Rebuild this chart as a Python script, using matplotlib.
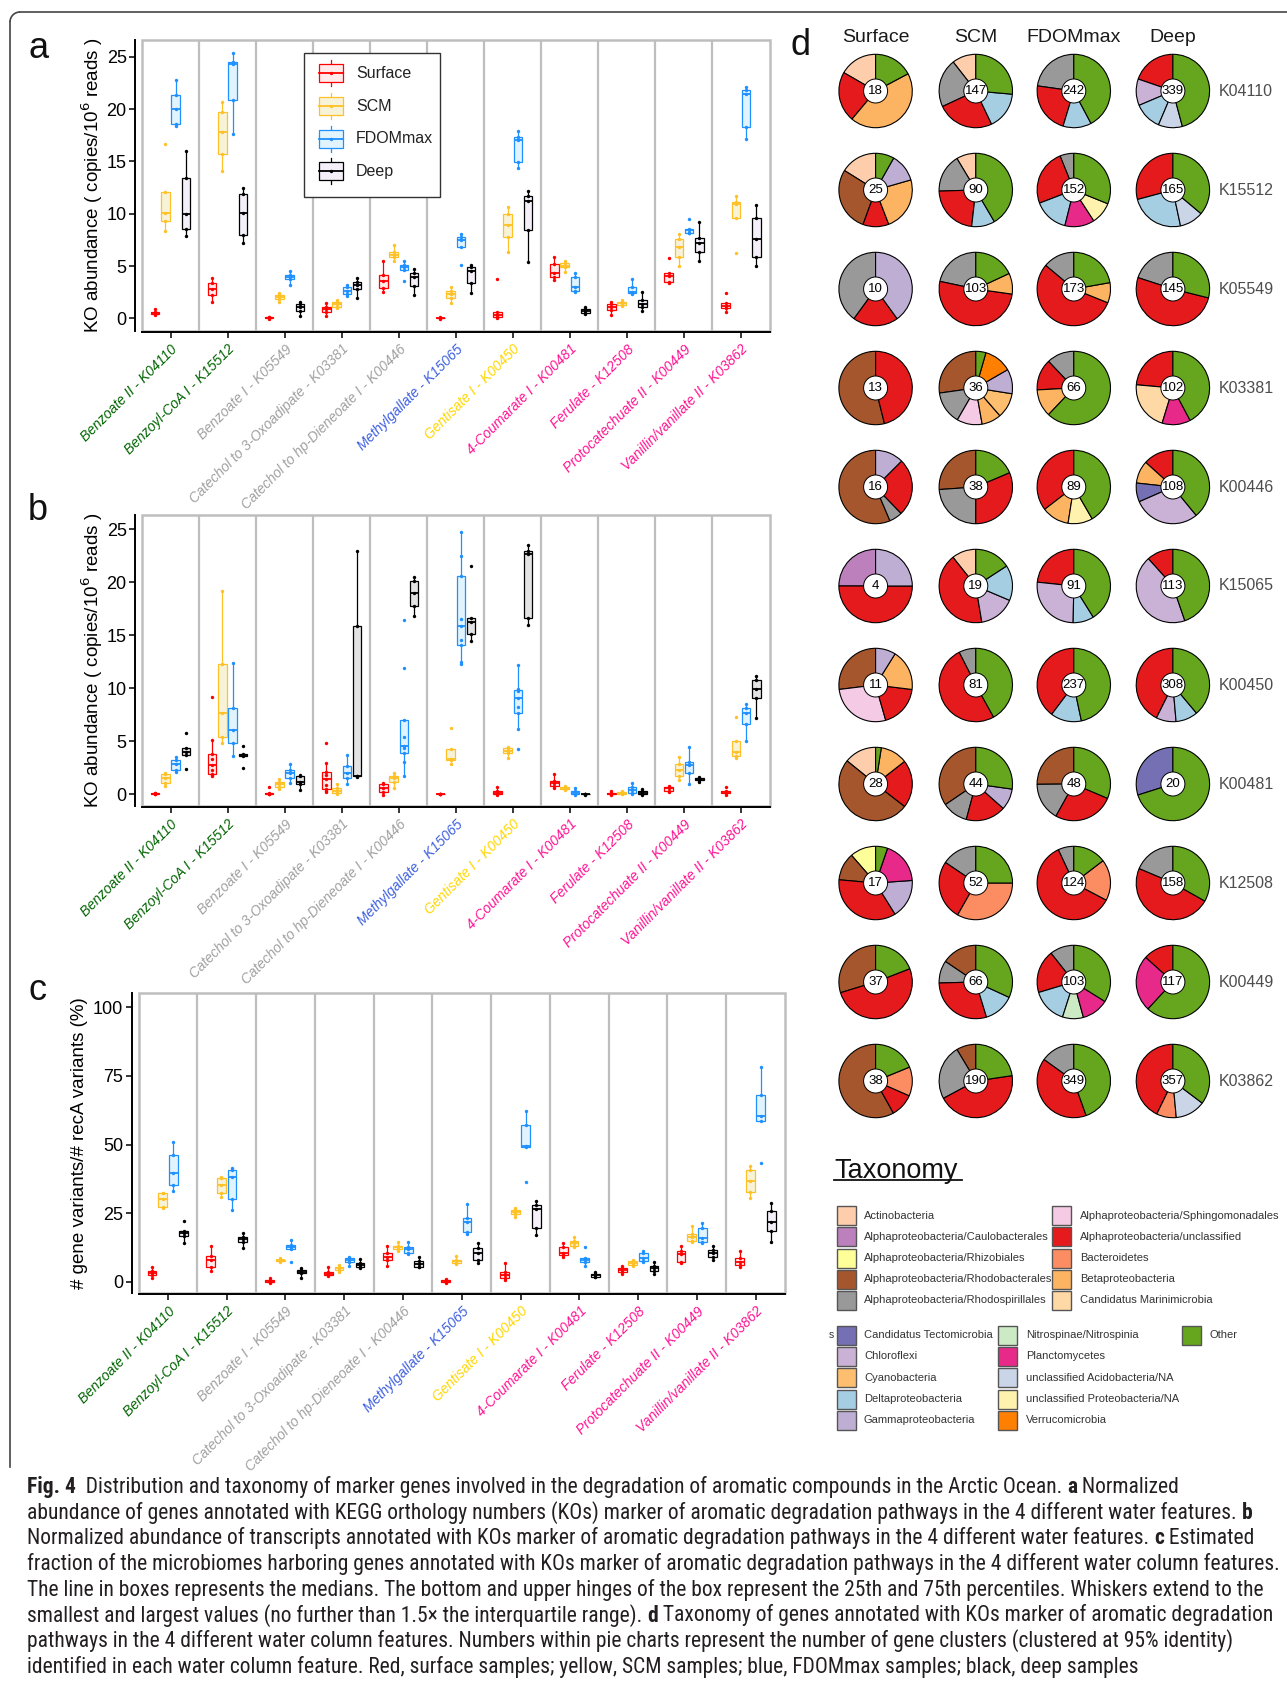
import matplotlib
matplotlib.use("Agg")
import matplotlib.pyplot as plt
from matplotlib import font_manager as fm
from matplotlib.patches import Rectangle, Circle, Arc
from matplotlib.lines import Line2D
from matplotlib.transforms import Bbox, TransformedBbox
import numpy as np

# ---------------------------------------------------------------- data
categories = ["Benzoate II - K04110", "Benzoyl-CoA I - K15512", "Benzoate I - K05549",
              "Catechol to 3-Oxoadipate - K03381", "Catechol to hp-Dieneoate I - K00446",
              "Methylgallate - K15065", "Gentisate I - K00450", "4-Coumarate I - K00481",
              "Ferulate - K12508", "Protocatechuate II - K00449", "Vanillin/vanillate II - K03862"]
category_colors = ["#006400", "#006400", "#A0A0A0", "#A0A0A0", "#A0A0A0", "#3D5FE0",
                   "#FFD700", "#FF1493", "#FF1493", "#FF1493", "#FF1493"]
groups = ["Surface", "SCM", "FDOMmax", "Deep"]
group_colors = ["#FF0000", "#FFC125", "#1E90FF", "#000000"]

# panel a: gene abundance (copies / 10^6 reads)
a_surface = [[0.3, 0.45, 0.55, 0.65, 0.9], [1.6, 2.26, 2.83, 3.4, 3.9], [-0.05, 0.0, 0.05, 0.1, 0.15],
             [0.25, 0.57, 0.86, 1.05, 1.43], [2.55, 2.87, 3.57, 4.14, 5.5], [-0.05, 0.0, 0.02, 0.05, 0.1],
             [0.05, 0.1, 0.32, 0.57, 3.8], [3.66, 3.92, 4.3, 5.16, 5.83], [0.32, 0.8, 1.11, 1.37, 1.6],
             [3.4, 3.5, 4.04, 4.36, 5.73], [0.64, 0.96, 1.2, 1.43, 2.4]]
a_scm = [[8.3, 9.33, 10.1, 12.1, 16.7], [14.1, 15.67, 17.8, 19.75, 20.7], [1.6, 1.85, 2.05, 2.2, 2.4],
         [0.95, 1.1, 1.37, 1.6, 1.75], [5.5, 5.83, 6.1, 6.37, 7.0], [1.5, 1.97, 2.32, 2.6, 3.0],
         [6.37, 7.74, 8.9, 9.97, 10.6], [4.46, 4.87, 5.03, 5.25, 5.5], [1.18, 1.27, 1.43, 1.6, 1.75],
         [5.0, 5.9, 6.85, 7.58, 8.1], [6.27, 9.55, 10.9, 11.15, 11.7]]
a_fdom = [[18.4, 18.6, 20.0, 21.3, 22.8], [17.6, 20.9, 24.3, 24.5, 25.4], [3.2, 3.73, 3.98, 4.17, 4.55],
          [2.1, 2.32, 2.64, 2.96, 3.2], [3.6, 4.6, 4.94, 5.1, 5.5], [5.1, 6.85, 7.5, 7.74, 8.1],
          [14.33, 14.9, 17.0, 17.3, 17.9], [2.48, 2.64, 2.96, 3.98, 4.36], [2.32, 2.4, 2.5, 3.0, 3.73],
          [8.15, 8.2, 8.44, 8.57, 9.45], [17.1, 18.3, 21.4, 21.8, 22.1]]
a_deep = [[7.9, 8.5, 10.0, 13.4, 16.0], [7.2, 7.96, 10.1, 11.9, 12.5], [0.25, 0.7, 1.05, 1.37, 1.6],
          [1.97, 2.77, 3.18, 3.5, 3.9], [2.25, 3.12, 3.98, 4.36, 4.68], [2.4, 3.34, 4.55, 4.94, 5.1],
          [5.4, 8.44, 11.24, 11.7, 12.2], [0.41, 0.54, 0.73, 0.86, 1.11], [0.73, 1.05, 1.37, 1.75, 2.55],
          [5.5, 6.3, 7.17, 7.7, 9.24], [5.0, 5.83, 7.55, 9.55, 10.8]]

# panel b: transcript abundance
b_surface = [[0.0, 0.02, 0.05, 0.08, 0.12], [1.7, 1.8, 1.89, 2.3, 2.74, 3.3, 3.78, 5.1, 9.2],
             [0.0, 0.02, 0.05, 0.08, 0.7], [0.2, 0.3, 0.44, 0.9, 1.39, 1.8, 2.1, 2.9, 4.8],
             [-0.05, 0.16, 0.54, 0.91, 1.0], [0.0, 0.0, 0.02, 0.03, 0.05], [-0.05, 0.0, 0.06, 0.31, 0.7],
             [0.54, 0.79, 1.07, 1.23, 1.89], [-0.05, 0.0, 0.05, 0.1, 0.25], [0.22, 0.31, 0.54, 0.7, 0.75],
             [-0.05, 0.06, 0.16, 0.31, 0.7]]
b_scm = [[0.75, 1.0, 1.48, 1.89, 2.0], [4.8, 5.35, 7.68, 12.25, 19.2], [0.44, 0.69, 0.94, 1.16, 1.38],
         [0.0, 0.06, 0.31, 0.6, 0.94], [0.54, 1.16, 1.48, 1.7, 1.95], [2.83, 3.2, 3.27, 4.22, 6.2],
         [3.37, 3.84, 4.06, 4.31, 4.47], [0.4, 0.44, 0.54, 0.63, 0.75], [0.0, 0.05, 0.1, 0.15, 0.25],
         [1.32, 1.7, 2.27, 2.8, 3.46], [3.43, 3.59, 4.0, 5.04, 7.25]]
b_fdom = [[2.1, 2.27, 2.83, 3.2, 3.5], [3.6, 4.85, 6.05, 8.15, 12.4], [1.07, 1.54, 1.95, 2.27, 2.8],
          [0.94, 1.48, 1.95, 2.68, 3.68], [1.73, 3.05, 3.84, 4.3, 4.57, 5.4, 7.0, 11.9, 16.4],
          [12.25, 12.5, 14.07, 14.5, 15.87, 16.5, 20.6, 22.5, 24.7],
          [4.25, 6.1, 7.62, 8.2, 9.04, 9.7, 9.82, 9.9, 12.2], [-0.05, -0.03, 0.13, 0.31, 0.54],
          [0.0, 0.06, 0.38, 0.7, 1.0], [0.94, 1.95, 2.74, 3.05, 4.47], [5.0, 6.58, 7.62, 8.15, 8.5]]
b_deep = [[2.33, 3.68, 4.0, 4.3, 5.8], [2.5, 3.6, 3.68, 3.78, 4.53], [0.38, 0.94, 1.16, 1.7, 1.8],
          [1.65, 1.7, 1.73, 15.9, 22.95], [16.8, 17.76, 19.0, 20.1, 20.47], [14.45, 15.08, 16.28, 16.66, 21.5],
          [15.96, 16.6, 22.67, 22.95, 23.5], [-0.05, -0.02, 0.0, 0.02, 0.05], [-0.05, -0.03, 0.13, 0.31, 0.44],
          [1.16, 1.32, 1.42, 1.54, 1.64], [7.21, 9.1, 9.92, 10.77, 11.15]]

# panel c: gene variants / recA variants (%)
c_surface = [[1.2, 2.43, 3.3, 4.0, 5.2], [4.0, 5.47, 7.9, 9.36, 13.0], [-0.3, -0.2, 0.2, 0.6, 1.3],
             [2.1, 2.43, 3.0, 3.6, 5.3], [5.7, 7.9, 9.1, 10.3, 13.0], [-0.3, -0.2, 0.25, 0.6, 1.0],
             [0.6, 1.2, 2.4, 3.6, 6.7], [9.1, 9.7, 10.3, 12.5, 14.0], [2.8, 3.4, 4.25, 4.86, 5.7],
             [6.7, 7.3, 10.0, 11.3, 13.0], [5.5, 6.1, 7.3, 8.5, 11.2]]
c_scm = [[26.7, 27.1, 30.0, 32.2, 32.4], [30.7, 32.4, 35.2, 37.7, 38.0], [7.3, 7.5, 7.9, 8.1, 8.5],
         [3.6, 4.25, 4.86, 5.5, 6.1], [11.3, 11.8, 12.5, 13.0, 14.6], [6.4, 6.9, 7.5, 8.1, 9.5],
         [23.5, 24.7, 25.4, 26.1, 27.0], [12.5, 13.1, 14.0, 14.8, 16.2], [5.7, 6.1, 6.7, 7.5, 7.9],
         [14.6, 14.95, 16.4, 17.25, 20.3], [30.6, 32.8, 36.8, 40.7, 42.2]]
c_fdom = [[33.0, 35.2, 39.5, 46.2, 51.0], [26.1, 30.1, 38.3, 40.7, 41.3], [7.3, 11.8, 12.8, 13.4, 15.2],
          [5.7, 7.3, 7.9, 8.75, 9.1], [10.0, 10.3, 11.8, 12.5, 14.6], [17.4, 18.2, 21.9, 23.3, 28.5],
          [36.5, 49.2, 49.6, 57.1, 62.2], [5.7, 7.3, 8.1, 8.75, 12.5], [7.3, 7.7, 8.5, 10.3, 11.2],
          [14.2, 14.6, 15.8, 19.4, 21.5], [43.4, 58.6, 60.4, 68.0, 78.1]]
c_deep = [[14.2, 16.8, 17.9, 18.6, 22.1], [12.2, 14.6, 15.4, 16.2, 17.6], [1.3, 3.04, 3.6, 4.25, 4.86],
          [4.86, 5.2, 6.1, 6.7, 8.3], [5.2, 5.5, 6.4, 7.7, 9.1], [6.7, 8.1, 10.3, 12.4, 14.0],
          [17.0, 19.4, 26.4, 27.9, 29.4], [1.6, 1.8, 2.3, 2.8, 3.6], [2.8, 4.0, 4.86, 5.7, 7.3],
          [8.1, 9.1, 10.3, 11.5, 13.0], [14.6, 18.6, 21.6, 25.9, 28.8]]

# panel d: taxonomy
tax_keys = ["Act", "Cau", "Rhi", "Rhb", "Rhs", "Sph", "Aun", "Bac", "Bet", "Mar", "Tec",
            "Chl", "Cya", "Del", "Gam", "Nit", "Pla", "Aci", "Pro", "Ver", "Oth"]
tax_names = ["Actinobacteria", "Alphaproteobacteria/Caulobacterales", "Alphaproteobacteria/Rhizobiales",
             "Alphaproteobacteria/Rhodobacterales", "Alphaproteobacteria/Rhodospirillales",
             "Alphaproteobacteria/Sphingomonadales", "Alphaproteobacteria/unclassified", "Bacteroidetes",
             "Betaproteobacteria", "Candidatus Marinimicrobia", "Candidatus Tectomicrobia", "Chloroflexi",
             "Cyanobacteria", "Deltaproteobacteria", "Gammaproteobacteria", "Nitrospinae/Nitrospinia",
             "Planctomycetes", "unclassified Acidobacteria/NA", "unclassified Proteobacteria/NA",
             "Verrucomicrobia", "Other"]
tax_colors = ["#FDCDAC", "#BC80BD", "#FFFF99", "#A6562C", "#999999", "#F4CAE4", "#E41A1C", "#FC8D62",
              "#FDB462", "#FED9A6", "#7570B3", "#CAB2D6", "#FDBF6F", "#A6CEE3", "#BEAED4", "#CCEBC5",
              "#E7298A", "#CBD5E8", "#FFF2AE", "#FF7F00", "#66A61E"]
ko_rows = ["K04110", "K15512", "K05549", "K03381", "K00446", "K15065",
           "K00450", "K00481", "K12508", "K00449", "K03862"]
cluster_counts = {
    "K04110": [18, 147, 242, 339], "K15512": [25, 90, 152, 165], "K05549": [10, 103, 173, 145],
    "K03381": [13, 36, 66, 102], "K00446": [16, 38, 89, 108], "K15065": [4, 19, 91, 113],
    "K00450": [11, 81, 237, 308], "K00481": [28, 44, 48, 20], "K12508": [17, 52, 124, 158],
    "K00449": [37, 66, 103, 117], "K03862": [38, 190, 349, 357]}
pie_K04110 = [{"Oth": 62, "Bet": 158, "Aun": 80, "Act": 60},
              {"Oth": 95, "Del": 59.5, "Aun": 90.5, "Rhs": 77, "Act": 38},
              {"Oth": 152, "Del": 45, "Aun": 81, "Rhs": 82},
              {"Oth": 165, "Aci": 38, "Del": 44, "Chl": 42, "Aun": 71}]
pie_K15512 = [{"Oth": 29.5, "Gam": 44.5, "Bet": 85, "Aun": 41, "Rhb": 102, "Act": 58},
              {"Oth": 150, "Del": 37, "Aun": 82, "Rhs": 61, "Act": 31},
              {"Oth": 112, "Pro": 35, "Pla": 47, "Del": 55, "Aun": 89, "Rhs": 22},
              {"Oth": 130, "Aci": 38, "Del": 87, "Aun": 105}]
pie_K05549 = [{"Gam": 144, "Aun": 72, "Rhs": 144},
              {"Oth": 65, "Bet": 33, "Aun": 184, "Rhs": 78},
              {"Oth": 80, "Bet": 32, "Aun": 198, "Rhs": 50},
              {"Oth": 104, "Aun": 184, "Rhs": 72}]
pie_K03381 = [{"Aun": 166, "Rhb": 194},
              {"Oth": 16, "Ver": 44, "Gam": 39, "Cya": 40, "Bet": 31, "Sph": 40, "Rhs": 52, "Rhb": 98},
              {"Oth": 223.5, "Bet": 43.5, "Aun": 49.5, "Rhs": 43.5},
              {"Oth": 152, "Pla": 45, "Mar": 78, "Aun": 85}]
pie_K00446 = [{"Gam": 45, "Aun": 91, "Rhs": 21, "Rhb": 203},
              {"Oth": 67, "Aun": 113, "Rhs": 86, "Rhb": 94},
              {"Oth": 150, "Pro": 39, "Bet": 43.5, "Aun": 127.5},
              {"Oth": 141, "Chl": 106, "Tec": 30, "Bet": 36, "Aun": 48}]
pie_K15065 = [{"Gam": 90, "Aun": 180, "Cau": 90},
              {"Oth": 57, "Del": 56, "Chl": 57.5, "Aun": 151, "Act": 38.5},
              {"Oth": 148, "Del": 33, "Chl": 95, "Aun": 84},
              {"Oth": 161, "Chl": 157, "Aun": 42}]
pie_K00450 = [{"Gam": 32, "Bet": 65, "Aun": 67, "Sph": 99, "Rhb": 97},
              {"Oth": 151, "Aun": 182, "Rhs": 27},
              {"Oth": 168, "Del": 49, "Aun": 143},
              {"Oth": 140, "Del": 35, "Chl": 31.6, "Aun": 153.4}]
pie_K00481 = [{"Oth": 9, "Bet": 43, "Aun": 75.7, "Rhb": 181.3, "Act": 51},
              {"Oth": 98, "Gam": 33.6, "Aun": 63.4, "Rhs": 40.8, "Rhb": 124.2},
              {"Oth": 113, "Aun": 96, "Rhs": 60.5, "Rhb": 90.5},
              {"Oth": 252.5, "Tec": 107.5}]
pie_K12508 = [{"Oth": 19, "Pla": 67, "Gam": 62, "Aun": 127, "Rhb": 44, "Rhi": 41},
              {"Oth": 90, "Bac": 119.6, "Aun": 94.4, "Rhs": 56},
              {"Oth": 52.6, "Bac": 65.2, "Aun": 217.2, "Rhs": 25},
              {"Oth": 119.5, "Aun": 173.5, "Rhs": 67}]
pie_K00449 = [{"Oth": 68.7, "Aun": 184.3, "Rhb": 107},
              {"Oth": 114.7, "Del": 48.3, "Aun": 105.4, "Rhs": 35.6, "Rhb": 56},
              {"Oth": 122, "Pla": 42.8, "Nit": 33, "Del": 55.6, "Aun": 68.2, "Rhs": 38.4},
              {"Oth": 222.7, "Pla": 89.3, "Aun": 48}]
pie_K03862 = [{"Oth": 67.7, "Bac": 46, "Aun": 37.3, "Rhb": 209},
              {"Oth": 81.6, "Aun": 160.2, "Rhs": 87.2, "Rhb": 31},
              {"Oth": 160.3, "Aun": 145.4, "Rhs": 54.3},
              {"Oth": 127, "Aci": 47.7, "Bac": 31.3, "Aun": 154}]
pies = {"K04110": pie_K04110, "K15512": pie_K15512, "K05549": pie_K05549, "K03381": pie_K03381,
        "K00446": pie_K00446, "K15065": pie_K15065, "K00450": pie_K00450, "K00481": pie_K00481,
        "K12508": pie_K12508, "K00449": pie_K00449, "K03862": pie_K03862}

caption_lines = [
    [("Fig. 4", True), ("  Distribution and taxonomy of marker genes involved in the degradation of aromatic compounds in the Arctic Ocean. ", False), ("a", True), (" Normalized", False)],
    [("abundance of genes annotated with KEGG orthology numbers (KOs) marker of aromatic degradation pathways in the 4 different water features. ", False), ("b", True)],
    [("Normalized abundance of transcripts annotated with KOs marker of aromatic degradation pathways in the 4 different water features. ", False), ("c", True), (" Estimated", False)],
    [("fraction of the microbiomes harboring genes annotated with KOs marker of aromatic degradation pathways in the 4 different water column features.", False)],
    [("The line in boxes represents the medians. The bottom and upper hinges of the box represent the 25th and 75th percentiles. Whiskers extend to the", False)],
    [("smallest and largest values (no further than 1.5\u00d7 the interquartile range). ", False), ("d", True), (" Taxonomy of genes annotated with KOs marker of aromatic degradation", False)],
    [("pathways in the 4 different water column features. Numbers within pie charts represent the number of gene clusters (clustered at 95% identity)", False)],
    [("identified in each water column feature. Red, surface samples; yellow, SCM samples; blue, FDOMmax samples; black, deep samples", False)],
]

# ---------------------------------------------------------------- fonts
avail = {f.name for f in fm.fontManager.ttflist}


def pick(*names):
    for n in names:
        if n in avail:
            return n
    return "DejaVu Sans"


SANS = pick("Liberation Sans", "Arimo", "DejaVu Sans")
COND = pick("Liberation Sans Narrow", "Roboto Condensed", "Open Sans Condensed", "Liberation Sans")
plt.rcParams["font.family"] = [SANS, "DejaVu Sans"]

# ---------------------------------------------------------------- figure
W, H = 1287, 1689
fig = plt.figure(figsize=(W / 100, H / 100), dpi=100)
fig.patch.set_facecolor("white")


def rect(l, t, r, b):
    return [l / W, 1 - b / H, (r - l) / W, (b - t) / H]


ov = fig.add_axes([0, 0, 1, 1])
ov.set_xlim(0, W)
ov.set_ylim(H, 0)
ov.axis("off")

# outer border (rounded top-left corner)
bc = "#444444"
ov.add_line(Line2D([10, 10], [1467, 22], color=bc, lw=1.2))
ov.add_line(Line2D([20, W], [12, 12], color=bc, lw=1.2))
ov.add_patch(Arc((20, 22), 20, 20, theta1=180, theta2=270, color=bc, lw=1.2))

offsets = [-0.27, -0.09, 0.09, 0.27]


def box_panel(rc, data, fills, ylim, yticks, ylabel, ylab_x):
    ax = fig.add_axes(rect(*rc))
    ax.set_facecolor("none")
    x = np.arange(1, len(categories) + 1)
    for vals, col, fc, off in zip(data, group_colors, fills, offsets):
        pos = x + off
        ax.boxplot(vals, positions=pos, widths=0.15, patch_artist=True, showfliers=False,
                   showcaps=False, whis=1.5, manage_ticks=False,
                   boxprops=dict(facecolor=fc, edgecolor=col, linewidth=0.9),
                   whiskerprops=dict(color=col, linewidth=0.9),
                   medianprops=dict(color=col, linewidth=1.3))
        for p, v in zip(pos, vals):
            ax.scatter([p] * len(v), v, s=6, color=col, zorder=4, linewidths=0)
    ax.set_xlim(0.5, len(categories) + 0.5)
    ax.set_ylim(*ylim)
    for k in range(1, len(categories)):
        ax.axvline(k + 0.5, color="#BEBEBE", lw=1.6, zorder=0.5)
    ax.add_patch(Rectangle((0, 0), 1, 1, transform=ax.transAxes, fill=False, ec="#BEBEBE",
                           lw=1.8, zorder=0.5, clip_on=False))
    ax.spines["top"].set_visible(False)
    ax.spines["right"].set_visible(False)
    ax.spines["left"].set_position(("outward", 5))
    ax.spines["bottom"].set_position(("outward", 1))
    ax.spines["left"].set_linewidth(1.4)
    ax.spines["bottom"].set_linewidth(1.4)
    ax.set_yticks(yticks)
    ax.set_yticklabels([str(t) for t in yticks])
    ax.tick_params(axis="y", labelsize=13, length=4, width=1.1, pad=2)
    ax.set_xticks(x)
    ax.set_xticklabels(categories, rotation=45, ha="right", rotation_mode="anchor",
                       fontsize=10, fontstyle="italic")
    for lab, c in zip(ax.get_xticklabels(), category_colors):
        lab.set_color(c)
    ax.tick_params(axis="x", length=4, width=1.1, pad=3)
    cy = (rc[1] + rc[3]) / 2
    ov.text(ylab_x, cy, ylabel, rotation=90, ha="center", va="center", fontsize=13.5)
    return ax


fills_a = ["#FFEBEB", "#F7F3D9", "#E1F3FC", "#F4EFF9"]
fills_b = ["#FFEBEB", "#F7F3D9", "#E1F3FC", "#E3E3E3"]
ylab = "KO abundance ( copies/10$^{6}$ reads )"
axA = box_panel((142, 40, 769.5, 331), [a_surface, a_scm, a_fdom, a_deep], fills_a,
                (-1.21, 26.6), [0, 5, 10, 15, 20, 25], ylab, 92)
axB = box_panel((142, 515, 769.5, 806), [b_surface, b_scm, b_fdom, b_deep], fills_b,
                (-1.13, 26.35), [0, 5, 10, 15, 20, 25], ylab, 92)
axC = box_panel((138.5, 993, 785, 1293), [c_surface, c_scm, c_fdom, c_deep], fills_a,
                (-4.1, 105.2), [0, 25, 50, 75, 100], "# gene variants/# recA variants (%)", 80)

# panel letters
for s, x, y in [("a", 28, 58), ("b", 28, 520), ("c", 28, 1000), ("d", 790, 55)]:
    ov.text(x, y, s, fontsize=26, ha="left", va="baseline", color="#111111")

# ---------------------------------------------------------------- pies (panel d)
pax = fig.add_axes([0, 0, 1, 1])
pax.set_facecolor("none")
col_x = [875.6, 975.8, 1073.8, 1172.9]
row_y0, row_dy, R = 91, 99, 36.7
for i, ko in enumerate(ko_rows):
    cy = row_y0 + row_dy * i
    for j in range(4):
        comp = pies[ko][j]
        keys = [k for k in tax_keys if k in comp]
        vals = [comp[k] for k in keys]
        cols = [tax_colors[tax_keys.index(k)] for k in keys]
        pax.pie(vals, colors=cols, startangle=90, counterclock=True, center=(col_x[j], H - cy),
                radius=R, wedgeprops=dict(edgecolor="black", linewidth=0.8))
        pax.add_patch(Circle((col_x[j], H - cy), 12, fc="white", ec="black", lw=0.7, zorder=5))
        pax.text(col_x[j], H - cy, str(cluster_counts[ko][j]), ha="center", va="center",
                 fontsize=9.5, zorder=6)
    ov.text(1219, cy, ko, ha="left", va="center", fontsize=11.5, color="#4D4D4D")
pax.set_xlim(0, W)
pax.set_ylim(0, H)
pax.set_aspect("auto")
pax.axis("off")

for j, g in enumerate(groups):
    t = ov.text(col_x[j], 37, g, ha="center", va="center", fontsize=14, color="#1A1A1A")
    if g == "FDOMmax":
        t.set_clip_box(TransformedBbox(Bbox([[760, 0], [1120, 80]]), ov.transData))
        t.set_clip_on(True)

# taxonomy legend
ov.text(834, 1178, "Taxonomy", ha="left", va="baseline", fontsize=19.5, color="#111111")
ov.add_line(Line2D([834, 962], [1180, 1180], color="#111111", lw=1.3))
block1_rows = [1215.7, 1236.7, 1258, 1279.3, 1300.3]
block2_rows = [1335, 1356.3, 1377.7, 1399, 1420.3]
layout = [(0, 5, 837, 864, block1_rows), (5, 5, 1052, 1080, block1_rows),
          (10, 5, 837, 864, block2_rows), (15, 5, 998, 1026, block2_rows),
          (20, 1, 1182, 1209, block2_rows)]
for start, n, sx, tx, rows in layout:
    for r in range(n):
        k = start + r
        yy = rows[r]
        ov.add_patch(Rectangle((sx, yy - 9.5), 19, 19, fc=tax_colors[k], ec="#555555", lw=1.0))
        ov.text(tx, yy, tax_names[k], ha="left", va="center", fontsize=8, color="#333333")
ov.text(831, 1335, "s", ha="center", va="center", fontsize=7.5, color="#333333")

# ---------------------------------------------------------------- legend in panel a (top overlay)
tv = fig.add_axes([0, 0, 1, 1])
tv.set_xlim(0, W)
tv.set_ylim(H, 0)
tv.axis("off")
tv.add_patch(Rectangle((303.5, 53), 136.5, 144, fc="white", ec="#333333", lw=1.0, zorder=2))
leg_y = [73, 106, 138.5, 171]
for g, col, fc, yy in zip(groups, group_colors, fills_a, leg_y):
    tv.add_line(Line2D([331, 331], [yy - 13, yy + 13], color=col, lw=0.9, zorder=3))
    tv.add_patch(Rectangle((319, yy - 9), 24, 18, fc=fc, ec=col, lw=0.9, zorder=4))
    tv.add_line(Line2D([319, 343], [yy, yy], color=col, lw=1.3, zorder=5))
    tv.scatter([331], [yy], s=6, color=col, zorder=6, linewidths=0)
    tv.text(356, yy, g, ha="left", va="center", fontsize=11.5, color="#222222", zorder=6)

# ---------------------------------------------------------------- caption
renderer = fig.canvas.get_renderer()


def measure(s, size, bold):
    t = ov.text(0, 0, s, fontsize=size, family=[COND, "DejaVu Sans"],
                fontweight="bold" if bold else "normal")
    w = t.get_window_extent(renderer=renderer).width
    t.remove()
    return w


ref_w = sum(measure(s, 10, b) for s, b in caption_lines[3])
cap_size = min(17, 10 * 1247 / ref_w)
for i, runs in enumerate(caption_lines):
    x = 27
    y = 1493 + 25.7 * i
    for s, b in runs:
        ov.text(x, y, s, fontsize=cap_size, family=[COND, "DejaVu Sans"],
                fontweight="bold" if b else "normal", ha="left", va="baseline", color="#231F20")
        x += measure(s, cap_size, b)

fig.savefig("out.png", dpi=100, facecolor="white")
